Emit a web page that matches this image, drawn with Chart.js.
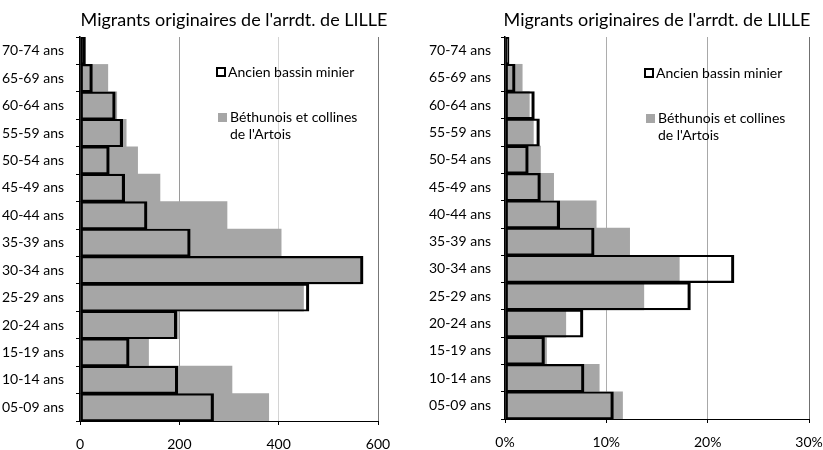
<!DOCTYPE html>
<html lang="fr">
<head>
<meta charset="utf-8">
<title>Migrants originaires de l'arrdt. de LILLE</title>
<script src="https://cdn.jsdelivr.net/npm/chart.js@4.4.1/dist/chart.umd.min.js"></script>
<style>
  html, body { margin: 0; padding: 0; background: #fff; }
  canvas { position: absolute; top: 0; }
  #pyramid-count { left: 0; }
  #pyramid-pct { left: 410px; }
</style>
</head>
<body>
<canvas id="pyramid-count" width="410" height="450"></canvas>
<canvas id="pyramid-pct" width="413" height="450"></canvas>
<script>
// classes d'âge, de haut en bas
const ageGroups = ['70-74 ans', '65-69 ans', '60-64 ans', '55-59 ans', '50-54 ans', '45-49 ans', '40-44 ans',
                   '35-39 ans', '30-34 ans', '25-29 ans', '20-24 ans', '15-19 ans', '10-14 ans', '05-09 ans'];

// effectifs
const bassinCount    = [11, 25, 71, 86, 59, 90, 135, 222, 570, 461, 195, 99, 197, 269];
const bethunoisCount = [10, 56, 74, 93, 116, 161, 296, 405, 566, 450, 198, 138, 306, 380];

// parts en %
const bassinPct    = [0.4, 1.0, 2.9, 3.4, 2.3, 3.5, 5.4, 8.8, 22.6, 18.3, 7.7, 3.9, 7.8, 10.7];
const bethunoisPct = [0.3, 1.7, 2.4, 2.8, 3.5, 4.8, 9.0, 12.3, 17.2, 13.7, 6.0, 4.1, 9.3, 11.6];

// axes horizontaux
const countTicks = { max: 600, step: 200 };
const pctTicks   = { max: 30, step: 10 };

const titleText = "Migrants originaires de l'arrdt. de LILLE";
const seriesNames = ['Ancien bassin minier', ['Béthunois et collines', "de l'Artois"]];

const FONT = 'Lato, "Open Sans", sans-serif';

// titre + légende dessinés dans la zone du graphique
const titleAndKey = {
  id: 'titleAndKey',
  afterDraw(chart, args, o) {
    const ctx = chart.ctx;
    const a = chart.chartArea;
    ctx.save();
    ctx.fillStyle = '#000';
    ctx.font = '18px ' + FONT;
    ctx.textAlign = 'center';
    ctx.textBaseline = 'middle';
    ctx.fillText(titleText, (a.left + a.right) / 2 + o.titleShift, 20);

    ctx.font = '14px ' + FONT;
    ctx.textAlign = 'left';
    // bassin minier : carré vide
    ctx.strokeStyle = '#000';
    ctx.lineWidth = 2;
    ctx.strokeRect(o.keyX + 1, o.keyY - 4, 8, 8);
    ctx.fillText(seriesNames[0], o.keyX + 12, o.keyY);
    // Béthunois : carré gris
    ctx.fillStyle = '#a6a6a6';
    ctx.fillRect(o.keyX + 2, o.keyY + 41, 9, 9);
    ctx.fillStyle = '#000';
    ctx.fillText(seriesNames[1][0], o.keyX + 14, o.keyY + 45);
    ctx.fillText(seriesNames[1][1], o.keyX + 14, o.keyY + 62);
    ctx.restore();
  }
};

function makePyramid(id, cfg) {
  return new Chart(document.getElementById(id), {
    type: 'bar',
    data: {
      labels: ageGroups,
      datasets: [
        {
          label: 'Ancien bassin minier',
          data: cfg.bassin,
          backgroundColor: 'rgba(0,0,0,0)',
          borderColor: '#000',
          borderWidth: { top: 1.5, bottom: 1.5, right: 2.5, left: 2 },
          borderSkipped: false,
          order: 0
        },
        {
          label: "Béthunois et collines de l'Artois",
          data: cfg.bethunois,
          backgroundColor: '#a6a6a6',
          borderWidth: 0,
          order: 1
        }
      ]
    },
    options: {
      indexAxis: 'y',
      responsive: false,
      animation: false,
      devicePixelRatio: 1,
      layout: { padding: { left: 0, right: cfg.padRight, top: 37, bottom: 0 } },
      datasets: { bar: { grouped: false, categoryPercentage: 1, barPercentage: 1 } },
      plugins: {
        legend: { display: false },
        tooltip: { enabled: false },
        titleAndKey: { keyX: cfg.keyX, keyY: cfg.keyY, titleShift: cfg.titleShift }
      },
      scales: {
        x: {
          min: 0,
          max: cfg.ticks.max,
          ticks: {
            stepSize: cfg.ticks.step,
            color: '#000',
            padding: 11,
            font: { family: FONT, size: 14 },
            callback: cfg.fmt
          },
          grid: {
            color: c => cfg.gridColors[c.index] || '#a0a0a0',
            tickColor: '#000',
            tickLength: 4
          },
          border: { color: '#000', width: 1 },
          afterFit: s => {
            s.height = cfg.xAxisHeight;
            // les libellés extrêmes peuvent déborder dans la marge
            s.paddingLeft = 0;
            s.paddingRight = 0;
          }
        },
        y: {
          ticks: {
            color: '#000',
            padding: cfg.labelPad,
            font: { family: FONT, size: 14 }
          },
          grid: {
            drawOnChartArea: false,
            offset: true,
            tickColor: '#000',
            tickLength: 4
          },
          border: { color: '#000', width: 1.5 },
          afterFit: s => { s.width = cfg.axisWidth; }
        }
      }
    },
    plugins: [titleAndKey]
  });
}

makePyramid('pyramid-count', {
  bassin: bassinCount,
  bethunois: bethunoisCount,
  ticks: countTicks,
  fmt: v => String(v),
  gridColors: ['#000', '#9a9a9a', '#d4d4d4', '#777'],
  axisWidth: 80,
  xAxisHeight: 29,
  labelPad: 12,
  padRight: 32,
  keyX: 216,
  keyY: 72,
  titleShift: 5
});

makePyramid('pyramid-pct', {
  bassin: bassinPct,
  bethunois: bethunoisPct,
  ticks: pctTicks,
  fmt: v => v + '%',
  gridColors: ['#000', '#adadad', '#a8a8a8', '#707070'],
  axisWidth: 95,
  xAxisHeight: 31,
  labelPad: 10,
  padRight: 14,
  keyX: 234,
  keyY: 73,
  titleShift: 0
});
</script>
</body>
</html>
